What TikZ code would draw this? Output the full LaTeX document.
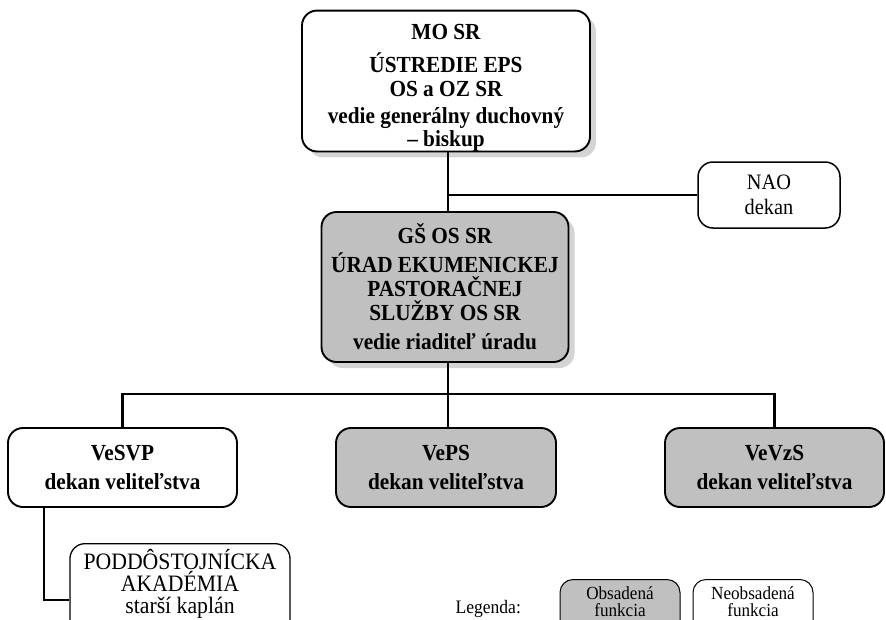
\documentclass[tikz,border=0pt]{standalone}
\usepackage{fontspec}
\setmainfont{Liberation Serif}
\newfontfamily\orgfont[FakeStretch=0.925]{Liberation Serif}
\usetikzlibrary{shadows, positioning}
\definecolor{boxgray}{RGB}{192,192,192}
\definecolor{shadowgray}{RGB}{212,212,212}
\tikzset{
  unit/.style={draw, rounded corners=15pt, align=center, fill=white, line width=1.9pt,
    font=\orgfont\fontsize{23}{24}\selectfont\bfseries, inner sep=2pt},
  filled/.style={fill=boxgray},
  shadowed/.style={drop shadow={shadow xshift=6pt, shadow yshift=-6pt, fill=shadowgray, opacity=1}},
  thinunit/.style={draw, rounded corners=15pt, align=center, fill=white, line width=1.3pt,
    font=\orgfont\fontsize{22}{22}\selectfont, inner sep=2pt},
  legendbox/.style={draw, rounded corners=13pt, align=center, line width=1pt,
    font=\orgfont\fontsize{18.5}{17}\selectfont, inner sep=2pt, minimum width=120pt, anchor=north},
  conn/.style={line width=2.2pt}
}
\begin{document}
\begin{tikzpicture}[x=1pt, y=-1pt]
\useasboundingbox (0,0) rectangle (886,619);
\clip (0,0) rectangle (886,619);

% Ústredie
\node[unit, shadowed, inner ysep=0pt, minimum width=288pt, minimum height=138pt] (mosr) at (446,81)
  {\rule{0pt}{29pt}MO SR\\[9pt] ÚSTREDIE EPS\\ OS a OZ SR\\[3pt] vedie generálny duchovný\\[-1pt] – biskup};
% Úrad
\node[unit, filled, shadowed, minimum width=247pt, minimum height=150pt] (gs) at (445,287)
  {GŠ OS SR\\[5pt] ÚRAD EKUMENICKEJ\\ PASTORAČNEJ\\ SLUŽBY OS SR\\[5pt] vedie riaditeľ úradu};
\node[thinunit, line width=1.5pt, minimum width=142pt, minimum height=66pt] (nao) at (769,195)
  {NAO\\[3pt] dekan};

% Velitel'stva
\node[unit, minimum width=229pt, minimum height=79pt] (vesvp) at (122.5,467.5)
  {VeSVP\\[5pt] dekan veliteľstva};
\node[unit, filled, minimum width=220pt, minimum height=79pt] (veps) at (446,467.5)
  {VePS\\[5pt] dekan veliteľstva};
\node[unit, filled, minimum width=219pt, minimum height=79pt] (vevzs) at (774.5,467.5)
  {VeVzS\\[5pt] dekan veliteľstva};

% Akadémia (presahuje okraj)
\node[thinunit, font=\orgfont\fontsize{23.5}{22}\selectfont, anchor=north, minimum width=220pt] (podd) at (180,543)
  {\rule{0pt}{24pt}PODDÔSTOJNÍCKA\\ AKADÉMIA\\ starší kaplán\rule[-30pt]{0pt}{30pt}};

% Legenda
\node[font=\orgfont\fontsize{19}{19}\selectfont, anchor=base west] (leg) at (452,613) {Legenda:};
\node[legendbox, fill=boxgray] (obs) at (620,579)
  {\rule{0pt}{18pt}Obsadená\\ funkcia\rule[-30pt]{0pt}{30pt}};
\node[legendbox, fill=white] (neobs) at (753,579)
  {\rule{0pt}{18pt}Neobsadená\\ funkcia\rule[-30pt]{0pt}{30pt}};

% spojnice
\coordinate (bus) at (448,394);
\coordinate (kink) at (44,600);
\draw[conn] (mosr.south -| bus) -- (gs.north -| bus);
\draw[conn] (bus |- nao.west) -- (nao.west);
\draw[conn] (gs.south -| bus) -- (bus);
\draw[conn] (vesvp.north) |- (bus) -| (vevzs.north);
\draw[conn] (bus) -- (veps.north -| bus);
\draw[conn] (kink |- vesvp.south) -- (kink) -- (kink -| podd.west);
\end{tikzpicture}
\end{document}
